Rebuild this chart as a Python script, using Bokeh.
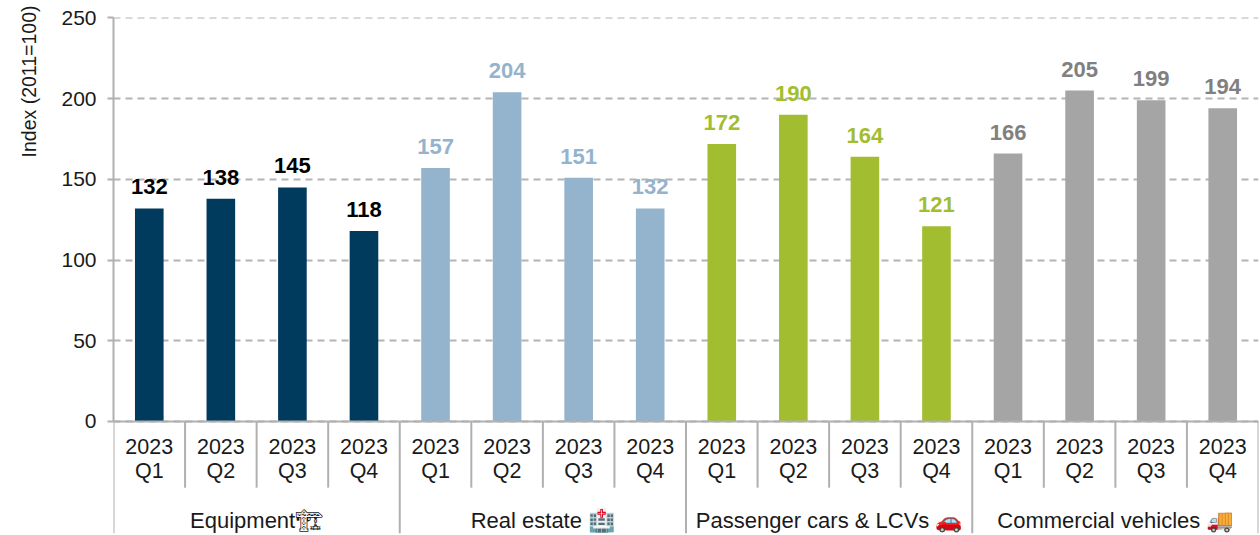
from bokeh.plotting import figure
from bokeh.models import ColumnDataSource, Title, Range1d
from bokeh.embed import file_html
from bokeh.resources import INLINE
from bokeh.core.properties import value

groups = ["Equipment🏗", "Real estate 🏥", "Passenger cars & LCVs 🚗", "Commercial vehicles 🚚"]
quarters = ["2023\nQ1", "2023\nQ2", "2023\nQ3", "2023\nQ4"]
equipment = [132, 138, 145, 118]
real_estate = [157, 204, 151, 132]
passenger = [172, 190, 164, 121]
commercial = [166, 205, 199, 194]
series = [equipment, real_estate, passenger, commercial]
colors = ["#003A5D", "#94B3CC", "#A2BD30", "#A5A5A5"]
label_colors = ["#000000", "#94B3CC", "#A2BD30", "#808080"]
y_ticks = [0, 50, 100, 150, 200, 250]
axis_gray = "#B0B0B0"
font = value("Liberation Sans")

# one unit per quarter, category k centred at k + 0.5
n_q = len(quarters)
n = len(groups) * n_q

p = figure(width=1260, height=535, x_range=Range1d(0, n), y_range=Range1d(-69.4, 250.3),
           output_backend="svg", toolbar_location=None,
           min_border_left=113, min_border_right=2, min_border_top=17, min_border_bottom=2,
           outline_line_color=None, background_fill_color="white", border_fill_color="white")

for i, (vals, c, lc) in enumerate(zip(series, colors, label_colors)):
    src = ColumnDataSource(dict(x=[i * n_q + j + 0.5 for j in range(n_q)], top=vals, label=[str(v) for v in vals]))
    p.vbar(x="x", top="top", bottom=0, width=0.4, source=src, fill_color=c, line_color=None)
    p.text(x="x", y="top", text="label", source=src, text_align="center", text_baseline="bottom",
           y_offset=-14, text_font=font, text_font_style="bold", text_font_size="22px", text_color=lc)

# separators beneath the category axis
minor_x = [i for i in range(n + 1) if i % n_q]
major_x = [i for i in range(n + 1) if i % n_q == 0]
p.segment(x0=minor_x, x1=minor_x, y0=[0] * len(minor_x), y1=[-41] * len(minor_x), line_color=axis_gray, line_width=2)
p.segment(x0=major_x, x1=major_x, y0=[0] * len(major_x), y1=[-69.4] * len(major_x), line_color=axis_gray, line_width=2)

# group captions
p.text(x=[i * n_q + n_q / 2 for i in range(len(groups))], y=[-61.5] * len(groups), text=groups,
       text_align="center", text_baseline="middle", text_font=font, text_font_size="22px", text_color="#1a1a1a")

ax = p.xaxis[0]
ax.fixed_location = 0
ax.ticker = [k + 0.5 for k in range(n)]
ax.major_label_overrides = {k + 0.5: quarters[k % n_q] for k in range(n)}
ax.axis_line_color = axis_gray
ax.axis_line_width = 2
ax.major_tick_line_color = None
ax.minor_tick_line_color = None
ax.major_label_text_font = "Liberation Sans"
ax.major_label_text_font_size = "21.5px"
ax.major_label_text_color = "#1a1a1a"
ax.major_label_text_line_height = 1.0
ax.major_label_standoff = 8

ay = p.yaxis[0]
ay.bounds = (0, 250)
ay.ticker = y_ticks
ay.axis_line_color = axis_gray
ay.axis_line_width = 2
ay.major_tick_line_color = axis_gray
ay.major_tick_line_width = 2
ay.major_tick_in = 0
ay.major_tick_out = 6
ay.minor_tick_line_color = None
ay.major_label_text_font = "Liberation Sans"
ay.major_label_text_font_size = "21px"
ay.major_label_text_color = "#1a1a1a"
ay.major_label_standoff = 11

p.xgrid.visible = False
g = p.ygrid[0]
g.bounds = (0, 250)
g.ticker = y_ticks
g.grid_line_color = "#B4B4B4"
g.grid_line_width = 2
g.grid_line_dash = "7 5"
g.level = "underlay"

p.add_layout(Title(text="Index (2011=100)", align="right", vertical_align="top", standoff=34, offset=-12,
                   text_font="Liberation Sans", text_font_size="19.5px",
                   text_font_style="normal", text_color="#1a1a1a"), "left")

open("out.html", "w").write(file_html(p, INLINE))
